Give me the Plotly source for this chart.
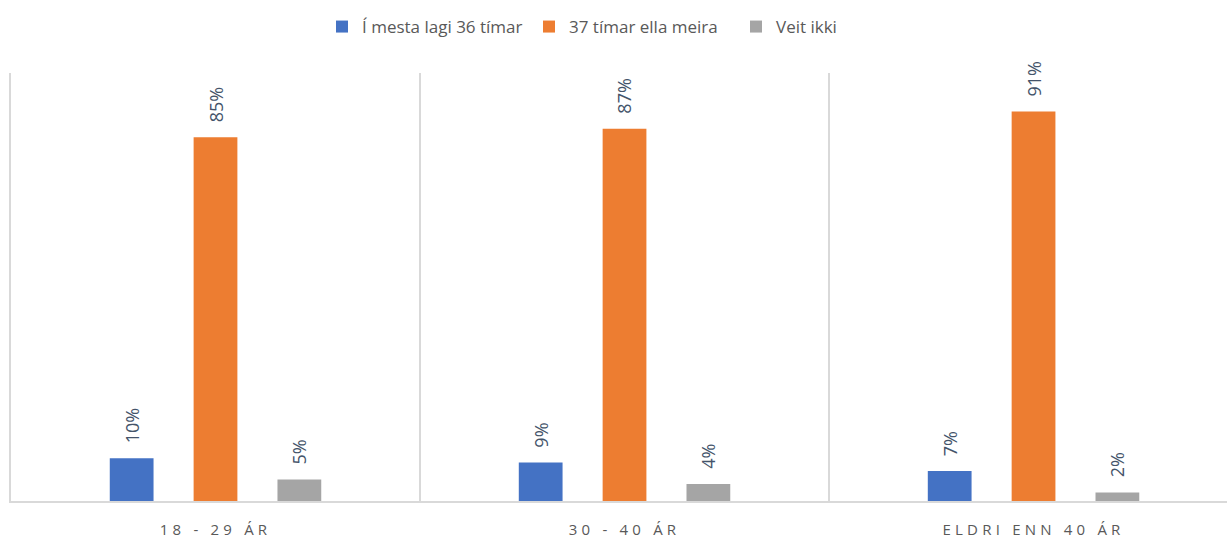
import plotly.graph_objects as go

categories = ["18 - 29 ÁR", "30 - 40 ÁR", "ELDRI ENN 40 ÁR"]
series_names = ["Í mesta lagi 36 tímar", "37 tímar ella meira", "Veit ikki"]
v_36 = [10, 9, 7]
v_37 = [85, 87, 91]
v_veit = [5, 4, 2]
colors = ["#4472C4", "#ED7D31", "#A5A5A5"]

W, H = 1227, 539
ML, MR, MT, MB = 11, 0, 73, 38
XRANGE = [-0.5, 2.473]
BARGAP, GROUPGAP = 0.385, 0.478

fig = go.Figure()
cat_px = (W - ML - MR) / (XRANGE[1] - XRANGE[0])
slot_px = (1 - BARGAP) / 3 * cat_px
all_vals = [v_36, v_37, v_veit]
for i, (name, vals, col) in enumerate(zip(series_names, all_vals, colors)):
    fig.add_trace(go.Bar(
        x=categories, y=vals, name=name, marker=dict(color=col, line=dict(width=0)),
    ))
    for c, v in zip(categories, vals):
        fig.add_annotation(
            x=c, y=v, text=f"{v}%", showarrow=False, textangle=-90,
            xshift=(i - 1) * slot_px, yshift=13, yanchor="bottom", xanchor="center",
            font=dict(color="#44546A", size=18, family="Open Sans"),
        )

fig.update_layout(
    width=W, height=H,
    margin=dict(l=ML, r=MR, t=MT, b=MB, autoexpand=False),
    paper_bgcolor="white", plot_bgcolor="white",
    barmode="group", bargap=BARGAP, bargroupgap=GROUPGAP,
    font=dict(family="Open Sans", color="#595959"),
    legend=dict(orientation="h", xref="container", x=(336 - 14) / W, xanchor="left",
                yref="container", y=1 - 9 / H, yanchor="top",
                font=dict(size=17, color="#595959"), itemwidth=30,
                entrywidth=162, entrywidthmode="pixels"),
)
fig.update_xaxes(range=XRANGE, tickson="boundaries", showgrid=True, automargin=False,
                 gridcolor="#D9D9D9", gridwidth=2, showline=True, linecolor="#D9D9D9",
                 linewidth=2, ticks="", tickfont=dict(size=15, color="#595959"),
                 ticklabelstandoff=14)
fig.update_yaxes(range=[0, 100], showticklabels=False, showgrid=False, zeroline=False,
                 showline=True, linecolor="#D9D9D9", linewidth=2, ticks="", automargin=False)

post = """
document.body.style.margin = '0';
document.body.style.padding = '0';
var s = document.createElement('style');
s.innerHTML = '.xtick text { letter-spacing: 4.2px; }';
document.head.appendChild(s);
"""
fig.write_html("out.html", post_script=post, config={"displayModeBar": False})
